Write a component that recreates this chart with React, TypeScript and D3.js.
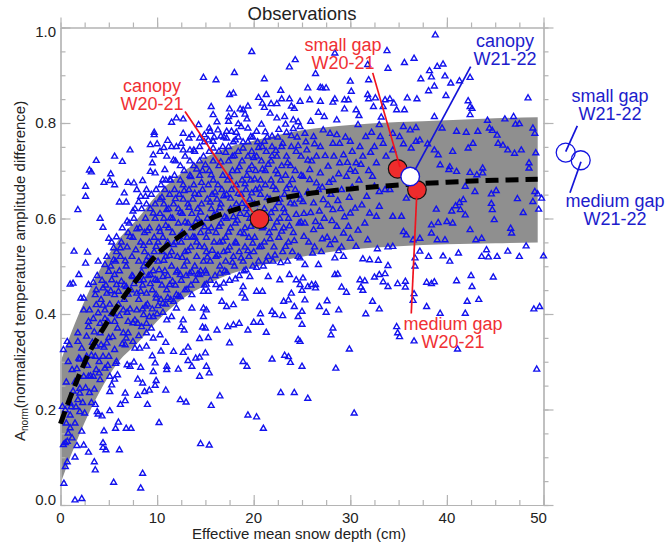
import React, { useRef, useEffect } from 'react';
import * as d3 from 'd3';

type Pt = [number, number];

// band and mean curve
const bandDepth = [0, 1, 2, 3, 4, 6, 8, 10, 12.5, 15, 17.5, 20, 25, 30, 35, 40, 45, 49.4];
const bandUpper = [0.3, 0.355, 0.405, 0.45, 0.49, 0.555, 0.6, 0.65, 0.695, 0.728, 0.75, 0.763, 0.785, 0.796, 0.802, 0.806, 0.81, 0.812];
const bandLower = [0.045, 0.1, 0.15, 0.195, 0.235, 0.3, 0.34, 0.385, 0.43, 0.46, 0.483, 0.498, 0.52, 0.535, 0.542, 0.546, 0.548, 0.55];
const meanCurve = [0.17, 0.225, 0.275, 0.32, 0.355, 0.42, 0.475, 0.525, 0.565, 0.595, 0.615, 0.63, 0.65, 0.662, 0.67, 0.676, 0.68, 0.682];

const xMajorTicks = [0, 10, 20, 30, 40, 50];
const yMajorTicks = [0, 0.2, 0.4, 0.6, 0.8, 1.0];

// below the band
const pointsLow: Pt[] = [
  [1.5,.01],[2.2,.013],[8.3,.035],[8.5,.066],[5.5,.047],[.35,.045],[.5,.08],[.7,.09],[1.5,.1],[3.5,.09],[3.6,.073],[2.9,.11],[2.4,.125],[1.7,.124],[4.4,.13],[4.4,.12],[4.7,.115],[6.1,.115],[4.5,.155],[5.7,.16],[6,.173],[6.8,.16],[7.3,.16],[10.2,.172],[14.5,.128],[15.4,.125],[19.4,.188],[20.3,.184],[21,.16],[15.6,.208],[16.5,.228],[12.4,.22],[13,.215],[10.9,.24],[9,.21],[8,.229],[8.7,.237],[9.2,.24],[6.7,.234],[6.7,.218],[6.2,.21],[5.1,.197],[4.3,.186],[3.9,.19],[3.8,.195],[3.6,.21],[22.8,.235],[24.2,.235],
  [21.9,.305],[23.2,.313],[23.6,.31],[23.8,.298],[18.9,.3],[19.3,.29],[14.4,.309],[15,.318],[15.1,.29],[15.4,.276],[14.4,.269],[13.6,.29],[13.2,.302],[12.2,.284],[11,.29],[11,.283],[9.8,.297],[9.6,.279],[9.9,.26],[9.8,.25],[8.5,.255],[8,.263],[8.3,.288],[7.6,.299],[7.2,.29],[6.9,.293],[5.9,.272],[5.6,.263],[5.3,.251],[5.1,.237],[7.7,.328],[8.2,.328],[8.9,.332],[9.5,.312],[10.4,.322],[10.9,.34],[11.7,.321],[12.7,.319],[13.2,.33],[14,.307],[17.5,.339],[14.4,.348],[15.3,.35],[16.2,.366],[15,.37],[14.7,.372],[17.3,.373],[17.9,.377],[18.5,.38],[19.4,.366],[20,.382],[20.7,.382],[21.3,.361],[20.7,.4],[21.9,.405],[23,.396],[22.2,.398],[24.6,.346],[24.6,.394],
  [25.6,.223],[30.4,.192],[28.5,.286],[25,.29],[29.9,.326],[28,.356],[28.2,.37],[24.8,.342],[25,.378],[25,.405],[27.5,.403],[26.8,.415],[27.6,.427],[28.8,.408],[25.3,.429],[31.6,.4],[32.3,.426],[33,.41],[34.8,.373],[34.9,.36],[35.1,.352],[36.6,.343],[36.5,.428],[36.6,.442],[37.9,.415],[39.3,.401],[41.1,.326],[41.9,.401],[42.1,.426],[43.3,.43],[49,.41],[49.6,.415],[49.3,.284],
  [28.4,.482],[28.7,.483],[29.1,.456],[29.6,.445],[31,.471],[31.5,.469],[31.1,.456],[31.3,.449],[32.5,.477],[33,.482],[33.6,.484],[33.4,.467],[33.9,.457],[34.9,.463],[35.7,.468],[35.7,.456],[37.9,.466],[38.4,.463],[38.7,.467],[41,.469],[42.5,.48],[42.6,.457],[44.8,.477],[25.6,.457],[26,.461],[26.4,.461],[26.4,.454],[25.1,.475],[25,.449],[24.8,.461],
  [16.5,.485],[16.9,.464],[18.9,.457],[19.1,.433],[18.8,.443],[20.3,.447],[20.9,.447],[23.6,.429],[23.9,.443],[23.1,.426],[24.2,.415],[21.5,.478],[23.7,.482],[22.7,.471],[24.4,.471],[19.6,.478],[16.7,.426],[17.2,.415],[17.9,.419],[15.1,.408],[14.8,.412],[13.6,.412],[14.8,.394],[12,.412],[12.7,.387],[12.5,.373],[12.8,.366],[11,.387],[11.5,.394],[8.9,.36],[9.6,.349],[10.3,.356],[8.4,.373],[7,.36],[7,.384],[7.7,.387],
  [44.1,.534],[43.6,.52],[44.3,.519],[45.2,.52],[46.3,.531],[47.5,.52],[50,.521],[41.2,.527],[39.6,.521],[40.3,.51],[38.1,.52],[37.2,.531],[36.7,.517],[32.8,.536],[33.9,.54],[34.4,.541],[31.3,.515],[32,.513],[32.9,.512],[33.9,.501],[36.7,.5],[29.3,.52],[28.4,.517],[26.7,.503],[25.3,.503],[48.2,.542]
];

// above the band
const pointsHigh: Pt[] = [
  [38.8,.984],[33.8,.951],[36.6,.935],[35.6,.926],[33.9,.914],[38.2,.909],[39,.918],[39.6,.923],[26.4,.903],[28.4,.946],[31.8,.922],[30,.887],[31.9,.89],[37.3,.892],[38.4,.896],[39.8,.898],[40.4,.883],[41.3,.888],[42.4,.895],[38.7,.877],[38.1,.867],[39.9,.857],[48.4,.852],[25.6,.873],[26.9,.874],[27.1,.873],[27.5,.873],[30.1,.866],[29.8,.848],[29.4,.848],[31.8,.859],[31.9,.85],[28.4,.85],[28.2,.843],[26.9,.845],[25.8,.848],[24.8,.845],[29.4,.829],[30.6,.827],[32.6,.852],[33.6,.848],[34.1,.85],[34.5,.841],[35.9,.852],[36.9,.85],[35.6,.827],[34.8,.827],[33.4,.834],[32.4,.834],[42.2,.846],[42.4,.834],[42.6,.83],[42.4,.817],[38.7,.813],
  [19.8,.949],[18,.905],[14.8,.895],[16.1,.89],[21.1,.892],[24.3,.932],[23.7,.917],[22.8,.868],[20.5,.853],[21.3,.859],[22.9,.85],[23.7,.85],[17.5,.859],[17.9,.862],[15.6,.834],[15.8,.817],[17.5,.829],[18.6,.829],[18.9,.827],[19.4,.835],[19.1,.818],[20.9,.841],[21.1,.832],[21.8,.84],[22.4,.84],[23.9,.835],[24.2,.83],[21.7,.82],[23.2,.813],[22.4,.81],[24.1,.806],[24.8,.792],
  [17.4,.813],[18,.817],[19.3,.808],[17.4,.803],[11.5,.801],[12,.81],[12.7,.808],[15.4,.789],[15.5,.782],[16.3,.785],[17.2,.782],[17.7,.782],[18.2,.78],[18.7,.792],[19.4,.789],[20.3,.782],[12.7,.778],[13.6,.775],[14.3,.796],[9.7,.78],[9.7,.775],[9.3,.754],[10,.756],[10.3,.74],[11.5,.75],[12,.75],[12.5,.757],[12.7,.743],[13.4,.743],[13.8,.743],[14.4,.768],[15.3,.764],[14.4,.75],[15.8,.761],[17.2,.768],[7.2,.743],[5.6,.73],[6.4,.719],[3.7,.721],[3,.701],[3.2,.697],[5.2,.693],[4.5,.675],[5.1,.679],[5.6,.67],[7,.675],[7.6,.674],[8.5,.679],[9.6,.733],[9.5,.716],[9.3,.698],[9.8,.695],[11,.73],[11.7,.722],[10.8,.702],[10.6,.681],[11.3,.681],[2.6,.667],[2.6,.646],[1.8,.618],[4.1,.6],[4.4,.581],[6.1,.634],[6.8,.634],[6.6,.653],[7.9,.66],[8.9,.66],[8.3,.646],[8.8,.646],[8.1,.635],[7.5,.615],[6.9,.594],[5.8,.561],[5,.558],[1.4,.531],[2.8,.529],[2.6,.506],[3.9,.51],[4.6,.503],[5.5,.538],[6.2,.538],
  [1,.462],[1.3,.464],[1.9,.482],[2.9,.461],[3.4,.466],[5,.489],[2.1,.433],[2.4,.433],
  [13.3,.768],[14.9,.775],[16.6,.772],[18.1,.764],[19.7,.771],[21.2,.781],[22.6,.786],[23.3,.797],[24.6,.802],[25.9,.803],[27.3,.813],[28.6,.806],[16.2,.802],[18.4,.798],[20.8,.797],[21.9,.772],[24.1,.788],[26.7,.822],[30.9,.815],[33.2,.812],[11.1,.763],[10.7,.748]
];

// inside the band, right half
const pointsBandRight: Pt[] = [
  [44.2,.805],[46,.808],[46.9,.813],[47.5,.798],[47.1,.797],[48.9,.789],[49.1,.778],[44.4,.789],[44.7,.784],[45.2,.774],[43.2,.782],[41,.782],[42,.78],[39.5,.789],[36.8,.79],[35.5,.792],[33,.796],[30.8,.796],[45.3,.757],[45.8,.753],[46.3,.743],[47.7,.743],[47,.736],[49.2,.737],[42.7,.757],[42.2,.747],[40.6,.74],[38,.756],[38.7,.743],[39.1,.733],[36.8,.761],[37.2,.764],[35.5,.756],[36.3,.747],[40.3,.708],[41,.698],[40.2,.702],[39.3,.712],[42.4,.696],[43.1,.691],[43.7,.695],[43.7,.705],[48.5,.716],[48.5,.705],[45.1,.658],[42.9,.656],[41.9,.667],[49.1,.656],[49.4,.651],[49.8,.642],[48.9,.635],[49.5,.619],[47.3,.641],[44.6,.651],[44.6,.631],[44.7,.618],[47.9,.612],[41.7,.639],[41.3,.633],[40.9,.626],[38.9,.619],[40.5,.615],[41.4,.618],[41.9,.607],[44.9,.597],[42.4,.576],[46.6,.579],[46.7,.569],[38.4,.586],[39.1,.591],[40,.593],[40.6,.59],[39,.555],[39.8,.555],[38.4,.569],[43,.555],[43.6,.558],
  [35.5,.572],[35.8,.565],[37.2,.558],[36.5,.555],[34.4,.604],[35.3,.604],[35.8,.642],[36.5,.649],[34.1,.66],[33.6,.66],[33,.656],[32.5,.667],[31.7,.646],[33,.625],[32,.611],[32.7,.604],[30,.611],[30.5,.621],[29.8,.583],[29.3,.569],[30,.558],[31.8,.555],[28.4,.555],[28.6,.583],[26.9,.583],[26.2,.576],[25.3,.59],[28.2,.618],[27.2,.639],[26.2,.632],[25.1,.635],
  [25.3,.778],[26.2,.771],[27.2,.785],[27.9,.778],[28.2,.757],[26.9,.75],[25.5,.743],[26.5,.73],[28.9,.757],[30,.761],[31,.75],[29.3,.733],[30.6,.716],[30,.702],[28.9,.716],[27.7,.709],[26.9,.695],[25.8,.702],[28.2,.681],[29.6,.688],[30.5,.698],[31.3,.73],[32.5,.75],[33.4,.757],[34.4,.778],[32.7,.716],[33.7,.73],[34.4,.743],[36.2,.785],[35.1,.771],[25.8,.681],[26.5,.674],[25.1,.688],
  [25.4,.76],[26,.72],[26.7,.66],[27.3,.6],[27.6,.56],[28,.65],[28.3,.73],[29,.62],[29.1,.66],[29.5,.77],[30.2,.74],[30.9,.68],[31.5,.59],[31.9,.7],[32.2,.78],[25.7,.55],[26.3,.54],[27,.53],[27.9,.545],[29.1,.54],[25.2,.61],[25.6,.655],[26.8,.615],[27.8,.675],
  [25.9,.612],[26.4,.593],[27.1,.557],[27.7,.628],[28.1,.595],[28.7,.637],[29.4,.603],[29.9,.644],[30.8,.575],[31.2,.628],[25.2,.562],[26.1,.527],[28.8,.532],[30.6,.541],[25.6,.722],[26.3,.756],[27.4,.731],[28.6,.775],[29.7,.717],[31.6,.771],[32.1,.738],[33.1,.771],[27.1,.665],[28.8,.693],[30.2,.665],[31.1,.713],[32.3,.688]
];

// inside the band, left half (dense part)
const pointsBandLeft: Pt[] = [
  [.3,.325],[.7,.342],[.9,.335],[1.2,.283],[1.9,.307],[2,.305],[.8,.3],[1.5,.258],[.6,.257],[1,.213],[.2,.206],[.5,.199],[1.1,.205],[.6,.171],[1,.161],[.8,.15],[.3,.126],[.5,.13],[.7,.133],[1.2,.14],[2.2,.154],[1.5,.171],[2.5,.192],[2,.195],[1,.188],[1.8,.22],[2,.234],[3,.235],[2,.244],[2.4,.269],[2.9,.269],[3.4,.269],[4.1,.262],[5.1,.269],[3.7,.283],[4.6,.286],[2.7,.311],[3.6,.311],[4.4,.311],[5,.311],[5.8,.3],[5.6,.325],[6.7,.335],[7.5,.342],[6.8,.349],[4.8,.339],[3.7,.332],[2.7,.353],[1.8,.36],[1.8,.342],[2.9,.373],[2.9,.384],[2.4,.408],[3,.408],[3.7,.419],[4.6,.408],[5.3,.401],[4.1,.38],[5.6,.384],[6.5,.408],[9.6,.394],[8.6,.398],[7.9,.408],[7.9,.443],[8.9,.443],[9.9,.433],[10.6,.422],[11.7,.426],[12.4,.436],[13.6,.44],[15.3,.447],[16.5,.454],[5.8,.461],[5.3,.471],[5.6,.482],[4.4,.454],[3.7,.45],[4.8,.443],[6,.447],[6.8,.457],[7.5,.478],[8.6,.471],[9.3,.482],[10.6,.478],[11.3,.461],[12.4,.482],[13.4,.485],[14.4,.482],[15.1,.485],
  [3.1,.27],[3.3,.34],[3.4,.39],[3.6,.44],[3.8,.48],[4,.3],[4.1,.36],[4.2,.43],[4.3,.47],[4.5,.33],[4.6,.39],[4.7,.46],[4.8,.52],[5,.35],[5.1,.42],[5.2,.5],[5.3,.55],
  [5.5,.4],[5.6,.44],[5.7,.51],[5.8,.53],[5.9,.37],[6,.42],[6.1,.49],[6.2,.52],[6.3,.55],[6.4,.58],[6.5,.36],[6.6,.43],[6.6,.46],[6.8,.5],[6.9,.54],[7,.57],[7.1,.59],[7.2,.41],[7.3,.45],[7.4,.48],[7.4,.52],[7.5,.56],[7.6,.6],[7.7,.62],
  [8,.38],[8.1,.43],[8.2,.47],[8.1,.51],[8.3,.55],[8.2,.58],[8.4,.62],[8.5,.41],[8.5,.46],[8.6,.5],[8.7,.53],[8.7,.57],[8.8,.6],[8.9,.63],[8.9,.38],
  [9,.42],[9.1,.48],[9.1,.52],[9.2,.55],[9.2,.58],[9.3,.62],[9.4,.65],[9.4,.37],[9.5,.41],[9.5,.45],[9.6,.49],[9.7,.53],[9.7,.56],[9.8,.6],[9.8,.63],[9.9,.66],[9.9,.44],
  [10,.4],[10,.47],[10.1,.51],[10.1,.55],[10.2,.58],[10.3,.61],[10.3,.64],[10.4,.67],[10.4,.43],[10.5,.46],[10.5,.53],[10.6,.56],[10.7,.6],[10.7,.63],[10.8,.66],[10.8,.49],[10.9,.42],[10.9,.52],[10.9,.68],
  [11,.45],[11.1,.48],[11.1,.55],[11.2,.58],[11.2,.62],[11.3,.65],[11.4,.68],[11.4,.43],[11.5,.5],[11.5,.53],[11.6,.57],[11.6,.6],[11.7,.63],[11.8,.66],[11.8,.69],[11.9,.46],[11.9,.55],[11.9,.72],
  [12,.44],[12.1,.49],[12.1,.52],[12.2,.59],[12.2,.62],[12.3,.65],[12.4,.68],[12.4,.71],[12.5,.47],[12.5,.55],[12.6,.57],[12.6,.61],[12.7,.64],[12.7,.67],[12.8,.7],[12.8,.5],[12.9,.45],[12.9,.53],[12.9,.73],
  [13,.48],[13.1,.51],[13.1,.56],[13.2,.59],[13.2,.63],[13.3,.66],[13.4,.69],[13.4,.72],[13.5,.46],[13.5,.54],[13.6,.58],[13.6,.61],[13.7,.64],[13.8,.67],[13.8,.71],[13.9,.5],[13.9,.56],[13.9,.74],
  [14,.47],[14.1,.52],[14.1,.55],[14.2,.6],[14.2,.62],[14.3,.65],[14.4,.69],[14.4,.72],[14.5,.49],[14.5,.57],[14.6,.59],[14.6,.63],[14.7,.66],[14.7,.7],[14.8,.73],[14.8,.51],[14.9,.46],[14.9,.54],[14.9,.76],
  [15,.49],[15.1,.53],[15.1,.56],[15.2,.6],[15.2,.64],[15.3,.67],[15.4,.7],[15.4,.74],[15.5,.47],[15.5,.51],[15.6,.58],[15.6,.62],[15.7,.65],[15.8,.68],[15.8,.72],[15.9,.55],[15.9,.77],
  [16,.48],[16.1,.52],[16.1,.57],[16.2,.61],[16.2,.64],[16.3,.67],[16.4,.71],[16.4,.74],[16.5,.5],[16.5,.55],[16.6,.59],[16.6,.63],[16.7,.66],[16.8,.69],[16.8,.75],[16.9,.53],[16.9,.77],
  [17,.49],[17.1,.51],[17.1,.56],[17.2,.6],[17.2,.65],[17.3,.68],[17.4,.72],[17.4,.75],[17.5,.47],[17.5,.54],[17.6,.58],[17.6,.62],[17.7,.66],[17.8,.7],[17.8,.73],[17.9,.52],[17.9,.76],
  [18,.5],[18.1,.55],[18.1,.59],[18.2,.63],[18.2,.67],[18.3,.7],[18.4,.74],[18.4,.77],[18.5,.48],[18.5,.53],[18.6,.57],[18.6,.61],[18.7,.65],[18.8,.68],[18.8,.72],[18.9,.51],[18.9,.76],
  [19,.49],[19.1,.54],[19.1,.58],[19.2,.62],[19.2,.66],[19.3,.69],[19.4,.73],[19.4,.76],[19.5,.52],[19.5,.56],[19.6,.6],[19.6,.64],[19.7,.68],[19.8,.71],[19.8,.74],[19.9,.5],[19.9,.77],
  [20,.53],[20.1,.56],[20.1,.63],[20.2,.66],[20.2,.7],[20.3,.73],[20.4,.76],[20.5,.51],[20.6,.54],[20.7,.65],[20.7,.68],[20.8,.72],[20.9,.75],[20.9,.58],[21,.5],[21.1,.55],[21.1,.62],[21.2,.67],[21.2,.7],[21.3,.74],[21.4,.77],[21.5,.52],
  [21.6,.57],[21.6,.6],[21.7,.64],[21.8,.68],[21.8,.72],[21.9,.75],[22,.51],[22.1,.54],[22.1,.58],[22.2,.62],[22.3,.66],[22.3,.7],[22.4,.73],[22.5,.77],[22.6,.56],[22.7,.6],[22.7,.64],[22.8,.68],[22.9,.71],[22.9,.75],[23,.53],[23.1,.58],
  [23.1,.62],[23.2,.65],[23.3,.69],[23.4,.73],[23.4,.78],[23.5,.51],[23.6,.55],[23.6,.6],[23.7,.67],[23.8,.71],[23.9,.75],[24,.53],[24.1,.57],[24.2,.63],[24.3,.66],[24.3,.7],[24.4,.74],[24.5,.77],[24.6,.52],[24.7,.59],[24.8,.64],[24.9,.69],[24.9,.73]
];

// second pass over the dense part, between the first readings
const pointsBandFill: Pt[] = [
  [1.3,.238],[1.6,.205],[1.7,.285],[2.2,.328],[2.3,.214],[2.6,.245],[2.8,.292],[3.2,.214],[3.2,.313],[3.5,.242],[3.5,.362],[3.9,.402],[4,.276],[4.2,.335],[4.4,.418],[4.9,.292],[4.9,.384],[5.2,.448],[5.4,.352],[5.5,.513],[5.7,.296],[6.1,.396],[6.3,.468],[6.4,.337],[6.7,.511],[6.9,.403],[7,.441],[7.2,.562],[7.5,.381],[7.6,.463],[7.8,.534],[7.9,.578],
  [8.1,.354],[8.3,.447],[8.4,.488],[8.6,.543],[8.8,.416],[8.9,.512],[9,.574],[9.2,.394],[9.3,.463],[9.4,.514],[9.6,.611],[9.8,.472],[9.9,.541],[10.1,.417],[10.2,.492],[10.3,.572],[10.5,.644],[10.6,.403],[10.7,.512],[10.9,.585],[11,.618],[11.1,.434],[11.3,.522],[11.4,.601],[11.6,.468],[11.7,.545],[11.9,.641],[12,.487],[12.2,.437],[12.3,.562],[12.4,.613],[12.6,.518],[12.8,.658],[12.9,.592],
  [13.1,.451],[13.2,.532],[13.3,.623],[13.5,.687],[13.6,.488],[13.7,.561],[13.9,.652],[14,.592],[14.1,.703],[14.2,.483],[14.4,.541],[14.5,.613],[14.6,.675],[14.8,.447],[14.9,.582],[15,.712],[15.1,.462],[15.2,.519],[15.3,.573],[15.5,.634],[15.6,.691],[15.7,.533],[15.8,.747],[15.9,.607],[16,.655],[16.1,.461],[16.3,.523],[16.4,.583],[16.5,.622],[16.6,.718],[16.8,.552],[16.9,.647],
  [17,.603],[17.1,.738],[17.2,.487],[17.3,.533],[17.4,.571],[17.5,.687],[17.6,.642],[17.8,.508],[17.9,.603],[18,.731],[18.1,.473],[18.2,.548],[18.3,.596],[18.4,.652],[18.5,.708],[18.7,.517],[18.8,.631],[18.9,.747],[19,.568],[19.1,.672],[19.2,.492],[19.3,.608],[19.4,.532],[19.5,.702],[19.7,.583],[19.8,.653],[19.9,.548],[20,.727],[20.1,.682],[20.3,.497],[20.4,.612],[20.5,.748],
  [20.6,.663],[20.8,.541],[20.9,.703],[21,.583],[21.1,.761],[21.3,.51],[21.4,.643],[21.5,.713],[21.7,.557],[21.8,.612],[21.9,.731],[22,.667],[22.2,.523],[22.3,.742],[22.4,.592],[22.5,.693],[22.6,.633],[22.8,.507],[22.9,.573],[23,.757],[23.2,.612],[23.3,.541],[23.4,.662],[23.5,.716],[23.7,.584],[23.8,.632],[23.9,.773],[24,.681],[24.2,.553],[24.4,.608],[24.6,.752],[24.7,.649],[24.8,.517],[24.9,.592]
];

// big circles: depth, amplitude
const redSites: Pt[] = [[20.6, 0.599], [34.9, 0.704], [36.9, 0.66]];
const whiteSite: Pt = [36.2, 0.688];
const openSites: Pt[] = [[52.3, 0.738], [53.85, 0.722]];

// leader lines
const redLeaders: [Pt, Pt][] = [
  [[12.89, 0.824], [19.93, 0.612]],
  [[32.32, 0.905], [35.14, 0.708]],
  [[36.87, 0.646], [36.31, 0.401]],
];
const blueLeaders: [Pt, Pt][] = [
  [[42.46, 0.918], [36.7, 0.702]],
  [[53.5, 0.794], [52.3, 0.74]],
  [[53.88, 0.719], [52.74, 0.654]],
];

const redLabels = [
  { lines: ['canopy', 'W20-21'], x: 152, y: 92 },
  { lines: ['small gap', 'W20-21'], x: 343, y: 51 },
  { lines: ['medium gap', 'W20-21'], x: 453, y: 330 },
];
const blueLabels = [
  { lines: ['canopy', 'W21-22'], x: 505, y: 47 },
  { lines: ['small gap', 'W21-22'], x: 610, y: 102 },
  { lines: ['medium gap', 'W21-22'], x: 615, y: 207 },
];

const RED = '#f03034';
const BLUE = '#1c1ccc';
const MARK_BLUE = '#1212ee';
const AXIS = '#b4b4b4';
const TEXT = '#222';
const FONT = '"Liberation Sans", Arial, sans-serif';

export default function App() {
  const ref = useRef<SVGSVGElement>(null);

  useEffect(() => {
    const svg = d3.select(ref.current);
    svg.selectAll('*').remove();

    const x = d3.scaleLinear().domain([0, 50]).range([60.5, 543.5]);
    const y = d3.scaleLinear().domain([0, 1]).range([505, 27.5]);

    // gray band
    const area = d3.area<number>()
      .x((_, i) => x(bandDepth[i]))
      .y0((_, i) => y(bandLower[i]))
      .y1((_, i) => y(bandUpper[i]))
      .curve(d3.curveMonotoneX);
    svg.append('path').attr('d', area(bandDepth)).attr('fill', '#8f8f8f');

    // axes box
    const xMinor = d3.range(0, 50.01, 2.5);
    const yMinor = d3.range(0, 1.001, 0.05);
    const drawAxis = (axis: any, tx: number, ty: number) => {
      const g = svg.append('g').attr('transform', `translate(${tx},${ty})`).call(axis);
      g.selectAll('path').attr('stroke', AXIS).attr('stroke-width', 1.2);
      g.selectAll('line').attr('stroke', AXIS).attr('stroke-width', 1.2);
      g.selectAll('text').remove();
      return g;
    };
    [[d3.axisBottom(x), 505, -1], [d3.axisTop(x), 27.5, 1]].forEach(([mk, ty, s]: any) => {
      drawAxis(mk.tickValues(xMinor).tickSize(5 * s).tickSizeOuter(0).tickFormat(() => ''), 0, ty);
      drawAxis(mk.tickValues(xMajorTicks).tickSize(10 * s).tickSizeOuter(0).tickFormat(() => ''), 0, ty);
    });
    [[d3.axisLeft(y), 60.5, -1], [d3.axisRight(y), 543.5, 1]].forEach(([mk, tx, s]: any) => {
      drawAxis(mk.tickValues(yMinor).tickSize(5 * s).tickSizeOuter(0).tickFormat(() => ''), tx, 0);
      drawAxis(mk.tickValues(yMajorTicks).tickSize(10 * s).tickSizeOuter(0).tickFormat(() => ''), tx, 0);
    });

    // tick labels
    const tickText = svg.append('g').attr('font-family', FONT).attr('font-size', 15).attr('fill', TEXT);
    tickText.selectAll('text.xt').data(xMajorTicks).enter().append('text')
      .attr('x', d => x(d) - (d === 50 ? 5 : 0))
      .attr('y', 523)
      .attr('text-anchor', 'middle')
      .text(d => d);
    tickText.selectAll('text.yt').data(yMajorTicks).enter().append('text')
      .attr('x', 56)
      .attr('y', d => y(d) + 5 + (d === 1 ? 4 : d === 0 ? -5 : 0))
      .attr('text-anchor', 'end')
      .text(d => d.toFixed(1));

    // scatter
    const tri = d3.symbol().type(d3.symbolTriangle).size(15);
    const allPoints = [...pointsBandLeft, ...pointsBandFill, ...pointsBandRight, ...pointsLow, ...pointsHigh];
    svg.append('g').selectAll('path').data(allPoints).enter().append('path')
      .attr('d', tri as any)
      .attr('transform', d => `translate(${x(d[0])},${y(d[1])})`)
      .attr('fill', 'none')
      .attr('stroke', MARK_BLUE)
      .attr('stroke-width', 1.4);

    // mean curve
    const line = d3.line<number>()
      .x((_, i) => x(bandDepth[i]))
      .y(d => y(d))
      .curve(d3.curveMonotoneX);
    svg.append('path').attr('d', line(meanCurve))
      .attr('fill', 'none')
      .attr('stroke', '#000')
      .attr('stroke-width', 5)
      .attr('stroke-dasharray', '13 7');

    // leaders
    const leader = d3.line<Pt>().x(d => x(d[0])).y(d => y(d[1]));
    const leaders = (rows: [Pt, Pt][], color: string) =>
      svg.append('g').selectAll('path').data(rows).enter().append('path')
        .attr('d', d => leader(d))
        .attr('fill', 'none')
        .attr('stroke', color)
        .attr('stroke-width', 1.7);

    // site circles
    svg.append('g').selectAll('circle').data(redSites).enter().append('circle')
      .attr('cx', d => x(d[0])).attr('cy', d => y(d[1])).attr('r', 9.3)
      .attr('fill', '#ee2c2c').attr('stroke', '#111').attr('stroke-width', 1.2);
    leaders(redLeaders, '#f0141e');
    svg.append('circle')
      .attr('cx', x(whiteSite[0])).attr('cy', y(whiteSite[1])).attr('r', 9.3)
      .attr('fill', '#fff').attr('stroke', '#1414e0').attr('stroke-width', 1.4);
    leaders(blueLeaders, '#1414d8');
    svg.append('g').selectAll('circle').data(openSites).enter().append('circle')
      .attr('cx', d => x(d[0])).attr('cy', d => y(d[1])).attr('r', 9.5)
      .attr('fill', 'none').attr('stroke', '#1414e0').attr('stroke-width', 1.3);

    // annotation labels, two lines in one text
    const addLabels = (rows: typeof redLabels, color: string) => {
      rows.forEach(r => {
        const t = svg.append('text')
          .attr('x', r.x).attr('y', r.y)
          .attr('text-anchor', 'middle')
          .attr('font-family', FONT).attr('font-size', 18)
          .attr('fill', color);
        r.lines.forEach((s, i) => {
          t.append('tspan').attr('x', r.x).attr('dy', i === 0 ? 0 : 18).text(s);
        });
      });
    };
    addLabels(redLabels, RED);
    addLabels(blueLabels, BLUE);

    // titles
    svg.append('text').attr('x', 302).attr('y', 20).attr('text-anchor', 'middle')
      .attr('font-family', FONT).attr('font-size', 18.5).attr('fill', TEXT).text('Observations');
    svg.append('text').attr('x', 299).attr('y', 539).attr('text-anchor', 'middle')
      .attr('font-family', FONT).attr('font-size', 15).attr('fill', TEXT).text('Effective mean snow depth (cm)');

    const yTitle = svg.append('text')
      .attr('transform', 'translate(25,441) rotate(-90)')
      .attr('font-family', FONT).attr('font-size', 15).attr('fill', TEXT);
    yTitle.append('tspan').text('A');
    yTitle.append('tspan').attr('font-size', 10).attr('dy', 3).text('norm');
    yTitle.append('tspan').attr('dy', -3).text('(normalized temperature amplitude difference)');
  }, []);

  return (
    <svg
      ref={ref}
      width={665}
      height={546}
      style={{ position: 'absolute', left: 0, top: 0, background: '#fff' }}
    />
  );
}
